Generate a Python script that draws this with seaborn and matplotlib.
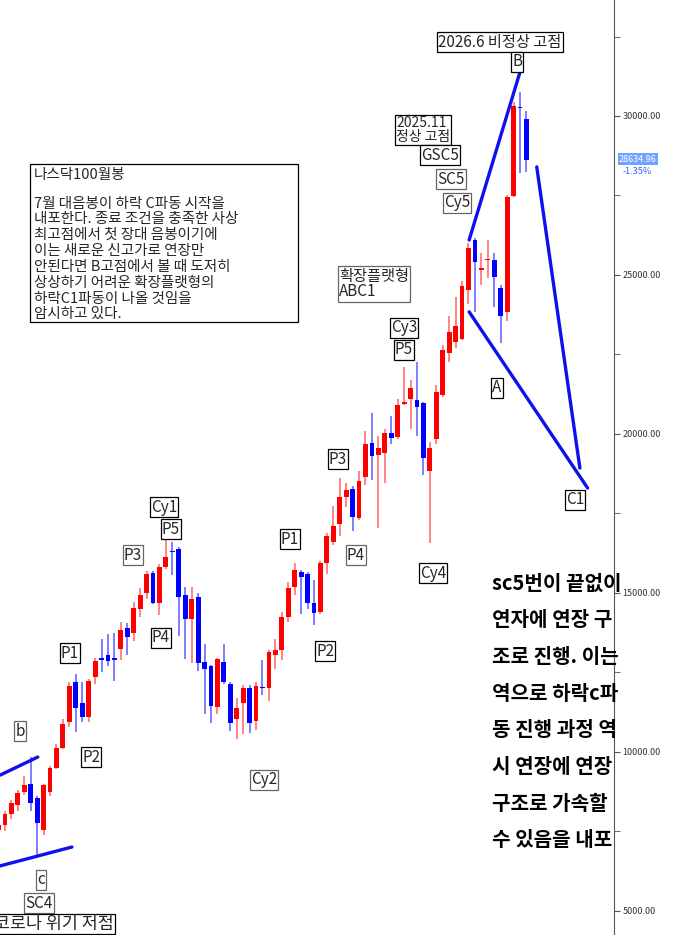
import numpy as np
import pandas as pd
import matplotlib
matplotlib.use("Agg")
import matplotlib.pyplot as plt
from matplotlib.patches import Rectangle
import seaborn as sns

sns.set_style("white")
plt.rcParams['font.family'] = ['Noto Sans CJK KR', 'DejaVu Sans']

# monthly OHLC
opens = [7550, 7700, 8050, 8330, 8740, 8990, 8550, 7550, 8740, 9490,
         10130, 10940, 12200, 11540, 11100, 12360, 12950, 13050, 12950, 13240,
         13900, 13740, 14500, 15000, 15630, 14680, 15820, 16330, 16380, 14930,
         14180, 14870, 12830, 12700, 11410, 12830, 12140, 11030, 11540, 12010,
         10970, 12030, 12010, 13050, 13200, 14240, 15180, 15660, 15600, 14680,
         14400, 15940, 16600, 17170, 18020, 18270, 17360, 18650, 19710, 19340,
         19400, 20030, 19900, 20950, 21100, 21070, 20970, 18850, 19840, 21230,
         22550, 22890, 22990, 24530, 26100, 25150, 25470, 25470, 24590, 23840,
         27480, 30280, 29900]
closes = [7700, 8050, 8400, 8700, 8960, 8390, 7760, 8960, 9490, 10130,
          10880, 12075, 11380, 11100, 12230, 12860, 12900, 12860, 12900, 13840,
          13620, 14530, 14930, 15600, 14680, 15820, 16130, 16280, 14870, 14180,
          14810, 12800, 12610, 11440, 12920, 12200, 10910, 11380, 12010, 10910,
          12080, 12000, 13140, 13200, 14240, 15150, 15720, 15500, 14680, 14370,
          15940, 16790, 17100, 18020, 18240, 17390, 18520, 19680, 19300, 19560,
          20030, 19870, 20910, 20970, 21450, 20850, 19240, 19560, 21320, 22640,
          23200, 23400, 24650, 25850, 25400, 25220, 25500, 24940, 23710, 27450,
          30310, 30250, 28620]
highs = [7850, 8150, 8500, 8800, 9230, 9850, 8600, 9000, 9550, 10250,
         11050, 12200, 12450, 12200, 12300, 12950, 13550, 13700, 13750, 14100,
         14050, 14700, 15150, 15700, 15700, 15900, 16730, 16600, 16450, 15200,
         15200, 15000, 13400, 12750, 12950, 13400, 12200, 11700, 12100, 12100,
         12200, 12880, 13200, 13550, 14400, 15350, 15950, 15720, 15650, 15400,
         16000, 16900, 17750, 18600, 18450, 18350, 18850, 20100, 20650, 19950,
         20150, 20560, 21100, 22100, 21700, 22250, 21000, 19750, 21550, 22800,
         23700, 24300, 24800, 26000, 26150, 25700, 26100, 25700, 24700, 27500,
         30450, 30750, 30150]
lows = [7400, 7500, 7900, 8150, 8650, 8150, 6730, 7400, 8600, 9450,
        10100, 10800, 10630, 10950, 10950, 12150, 12520, 12700, 12230, 12900,
        13050, 13500, 14250, 14800, 14650, 14300, 15750, 15550, 13650, 12920,
        12800, 12550, 11200, 10900, 11200, 12150, 10650, 10400, 10550, 10600,
        10700, 11800, 11600, 12600, 12900, 14100, 14950, 14330, 14500, 14000,
        14350, 15600, 16500, 16800, 17700, 16950, 17300, 18400, 18550, 17050,
        18450, 19700, 19850, 20900, 20150, 19950, 18700, 16570, 19700, 21150,
        22250, 22700, 22950, 24100, 23840, 24700, 24900, 24000, 22850, 23550,
        27450, 28200, 28250]

# wave trend lines (index, price)
line_lo_x, line_lo_y = [0.23, 11.4], [6415, 7010]
line_up_x, line_up_y = [0.23, 6.1], [9270, 9840]
line_b_x, line_b_y = [73.1, 81.1], [26100, 31450]
line_a_x, line_a_y = [73.1, 91.5], [23840, 18300]
line_c_x, line_c_y = [83.6, 90.3], [28400, 18930]

df = pd.DataFrame({'o': opens, 'c': closes, 'h': highs, 'l': lows})
df['i'] = np.arange(len(df))
df['up'] = df.c >= df.o

W, H = 683, 935
fig = plt.figure(figsize=(W / 100, H / 100), dpi=100)
ax = fig.add_axes([0, 0, 614 / W, 1])

red, blue = '#ff0000', '#0000ff'
col = np.where(df.up, red, blue)
wick = np.where(df.up, '#ff7070', '#6a6aff')
ax.vlines(df.i, df.l, df.h, colors=wick, linewidth=1.2, zorder=2)
body = np.maximum((df.c - df.o).abs(), 45)
ax.bar(df.i, body, bottom=np.minimum(df.o, df.c), width=0.75, color=col,
       linewidth=0, zorder=3)

for lx, ly in [(line_lo_x, line_lo_y), (line_up_x, line_up_y), (line_b_x, line_b_y),
               (line_a_x, line_a_y), (line_c_x, line_c_y)]:
    ax.plot(lx, ly, color='#1010ee', linewidth=2.4, zorder=4)

for s in ['left', 'top', 'bottom']:
    ax.spines[s].set_visible(False)
ax.spines['right'].set_color('#555555')
ax.yaxis.tick_right()
ax.set_yticks(np.arange(5000, 30001, 5000))
ax.set_yticklabels([f'{v:.2f}' for v in np.arange(5000, 30001, 5000)])
ax.set_yticks(np.arange(2500, 33000, 2500), minor=True)
ax.tick_params(axis='y', which='both', direction='out', length=4, labelsize=6.5,
               labelcolor='#333333', color='#555555', pad=2)
ax.set_xticks([])
ax.set_xlim(0.23, 95.6)
ax.set_ylim(4243, 33648)

def lab(x, y, s, ha='center', fs=11, edge='black', ls=0.9):
    fig.text(x / W, 1 - y / H, s, ha=ha, va='center', fontsize=fs, linespacing=ls,
             bbox=dict(boxstyle='square,pad=0.08', fc='white', ec=edge, lw=0.9), zorder=10)

lab(500, 42, '2026.6 비정상 고점')
lab(517, 62, 'B')
lab(396, 130, '2025.11\n정상 고점', ha='left', fs=10, ls=0.92)
lab(440, 155, 'GSC5')
lab(451, 179, 'SC5', edge='#666666')
lab(457, 203, 'Cy5', edge='#666666')
lab(339, 284, '확장플랫형\nABC1', ha='left', edge='#666666')
lab(404, 328, 'Cy3')
lab(404, 350, 'P5')
lab(497, 388, 'A')
lab(575, 500, 'C1')
lab(433, 573, 'Cy4')
lab(338, 459, 'P3')
lab(356, 555, 'P4', edge='#666666')
lab(290, 539, 'P1')
lab(325, 651, 'P2')
lab(264, 780, 'Cy2', edge='#666666')
lab(164, 507, 'Cy1')
lab(171, 529, 'P5')
lab(133, 555, 'P3', edge='#666666')
lab(161, 638, 'P4')
lab(70, 653, 'P1')
lab(91, 757, 'P2')
lab(20, 731, 'b', edge='#666666')
lab(41, 880, 'c', edge='#666666')
lab(39, 903, 'SC4', edge='#666666')
lab(114, 924, '코로나 위기 저점', ha='right', fs=12.5)

note = ["나스닥100월봉", "", "7월 대음봉이 하락 C파동 시작을", "내포한다. 종료 조건을 충족한 사상",
        "최고점에서 첫 장대 음봉이기에", "이는 새로운 신고가로 연장만", "안된다면 B고점에서 볼 때 도저히",
        "상상하기 어려운 확장플랫형의", "하락C1파동이 나올 것임을", "암시하고 있다."]
fig.patches.append(Rectangle((30 / W, 1 - 322 / H), 268 / W, 158 / H, transform=fig.transFigure,
                             fc='white', ec='black', lw=0.9, zorder=9))
note_y = [175, 190, 204, 219, 235, 251, 267, 283, 299, 314]
for s, yy in zip(note, note_y):
    fig.text(34 / W, 1 - yy / H, s, ha='left', va='center', fontsize=10.5, zorder=10)

side = ["sc5번이 끝없이", "연자에 연장 구", "조로 진행. 이는", "역으로 하락c파",
        "동 진행 과정 역", "시 연장에 연장", "구조로 가속할", "수 있음을 내포"]
for k, s in enumerate(side):
    fig.text(492 / W, 1 - (583 + 36.7 * k) / H, s, ha='left', va='center',
             fontsize=14.5, fontweight='bold', color='black', zorder=10)

fig.text(619 / W, 1 - 159 / H, '28634.96', ha='left', va='center', fontsize=6.5, color='white',
         bbox=dict(boxstyle='square,pad=0.15', fc='#6fa3ff', ec='none'))
fig.text(623 / W, 1 - 171 / H, '-1.35%', ha='left', va='center', fontsize=6.5, color='#3060ff')

fig.savefig('out.png', dpi=100)
